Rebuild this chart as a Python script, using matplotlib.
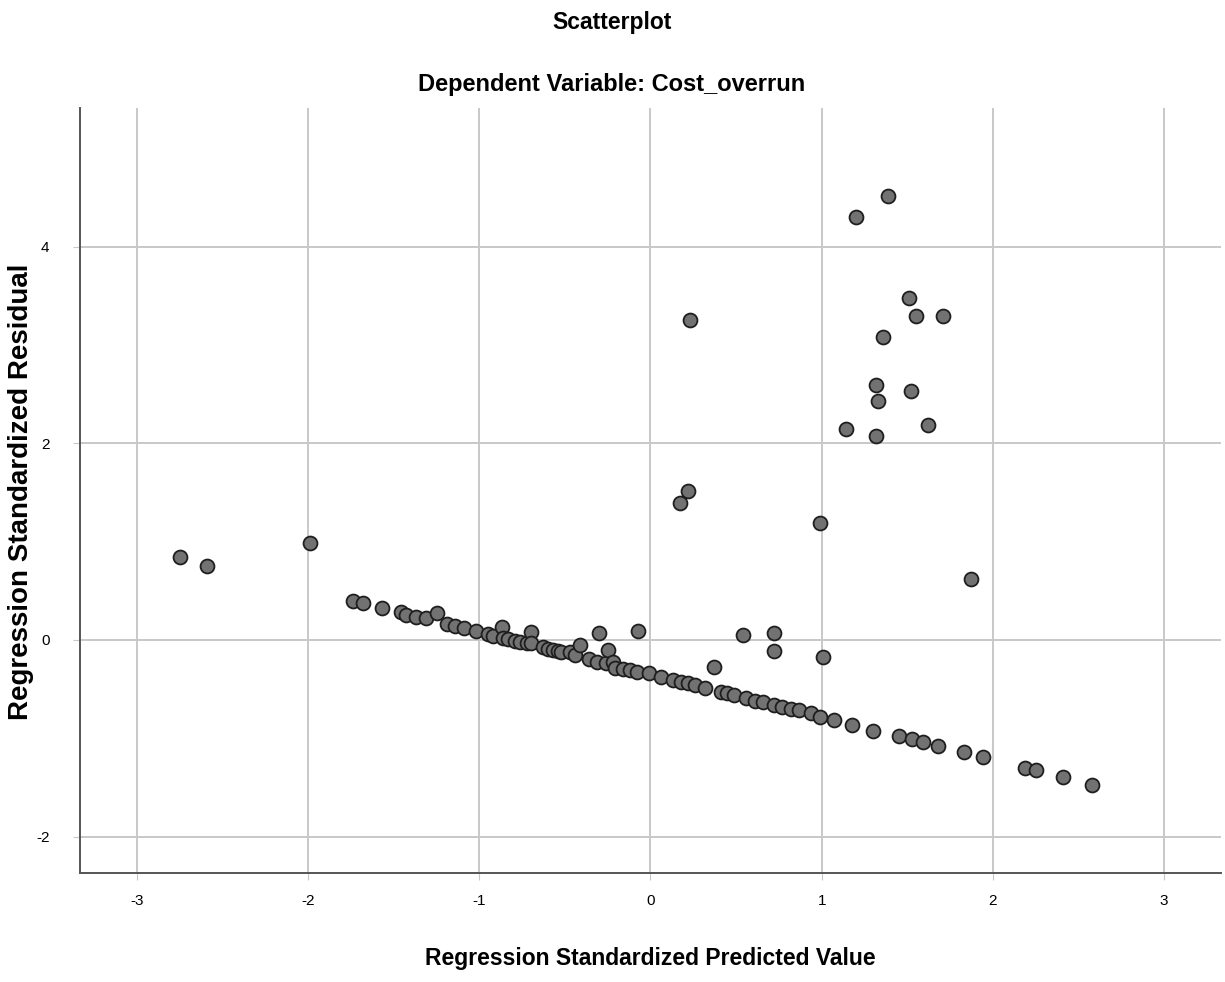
import matplotlib
matplotlib.use('Agg')
import matplotlib.pyplot as plt

# predicted values (x) and residuals (y)
pred = [-2.75, -2.59, -1.99,
        -1.74, -1.68, -1.57, -1.46, -1.43, -1.37, -1.31, -1.25, -1.19, -1.14, -1.09,
        -1.02, -0.95, -0.92, -0.87, -0.86, -0.83, -0.79, -0.76, -0.72, -0.70, -0.70,
        -0.63, -0.60, -0.57, -0.54, -0.52, -0.47, -0.44, -0.41, -0.36, -0.31, -0.30,
        -0.26, -0.25, -0.22, -0.21, -0.16, -0.12, -0.08, -0.07, -0.01, 0.06, 0.13,
        0.18, 0.22, 0.26, 0.32, 0.37, 0.41, 0.45, 0.49, 0.56, 0.61, 0.66, 0.72,
        0.77, 0.82, 0.87, 0.94, 0.99, 1.07, 1.18, 1.30, 1.45, 1.53, 1.59, 1.68,
        1.83, 1.94, 2.19, 2.25, 2.41, 2.58,
        0.54, 0.72, 0.72, 1.01, 1.87, 0.99, 0.22, 0.17, 0.23,
        1.39, 1.20, 1.51, 1.55, 1.71, 1.36, 1.32, 1.33, 1.52, 1.14, 1.32, 1.62]
resid = [0.84, 0.75, 0.99,
         0.40, 0.38, 0.33, 0.28, 0.25, 0.23, 0.22, 0.27, 0.16, 0.14, 0.12,
         0.09, 0.06, 0.04, 0.13, 0.02, 0.01, -0.01, -0.02, -0.03, 0.08, -0.03,
         -0.07, -0.09, -0.10, -0.11, -0.12, -0.12, -0.15, -0.05, -0.19, -0.22, 0.07,
         -0.23, -0.10, -0.22, -0.29, -0.30, -0.31, -0.33, 0.09, -0.34, -0.38, -0.41,
         -0.43, -0.44, -0.46, -0.49, -0.27, -0.53, -0.54, -0.56, -0.59, -0.62, -0.63, -0.66,
         -0.68, -0.70, -0.71, -0.74, -0.78, -0.81, -0.86, -0.93, -0.98, -1.01, -1.04, -1.08,
         -1.14, -1.19, -1.30, -1.32, -1.39, -1.47,
         0.05, 0.07, -0.11, -0.17, 0.62, 1.19, 1.52, 1.39, 3.25,
         4.52, 4.30, 3.48, 3.29, 3.29, 3.08, 2.59, 2.43, 2.53, 2.15, 2.07, 2.19]

xticks = [-3, -2, -1, 0, 1, 2, 3]
yticks = [-2, 0, 2, 4]

font = ['Liberation Sans', 'DejaVu Sans']

fig = plt.figure(figsize=(12.25, 9.82), dpi=100)
ax = fig.add_axes([0.0653, 0.111, 0.9314, 0.779])

ax.scatter(pred, resid, s=100, facecolor='#727272', edgecolor='#1e1e1e',
           linewidth=1.3, zorder=3)

ax.set_xlim(-3.333, 3.333)
ax.set_ylim(-2.37, 5.41)
ax.set_xticks(xticks)
ax.set_yticks(yticks)
ax.set_xticklabels([str(t) for t in xticks], family=font, fontsize=11)
ax.set_yticklabels([str(t) for t in yticks], family=font, fontsize=11)
ax.grid(True, color='#c8c8c8', linewidth=1.4, zorder=0)
ax.set_axisbelow(True)
ax.tick_params(axis='x', length=5, color='#c8c8c8', pad=10)
ax.tick_params(axis='y', length=5, color='#c8c8c8', pad=17)

for s in ['top', 'right']:
    ax.spines[s].set_visible(False)
for s in ['left', 'bottom']:
    ax.spines[s].set_color('#555555')
    ax.spines[s].set_linewidth(1.4)

fig.text(0.4996, 0.977, 'Scatterplot', ha='center', va='center',
         family=font, fontweight='bold', fontsize=16.5)
fig.text(0.4996, 0.914, 'Dependent Variable: Cost_overrun', ha='center', va='center',
         family=font, fontweight='bold', fontsize=17)
fig.text(0.5306, 0.024, 'Regression Standardized Predicted Value', ha='center', va='center',
         family=font, fontweight='bold', fontsize=16.5)
fig.text(0.0175, 0.499, 'Regression Standardized Residual', ha='center', va='center',
         rotation=90, family=font, fontweight='bold', fontsize=20)

fig.savefig('out.png', dpi=100)
